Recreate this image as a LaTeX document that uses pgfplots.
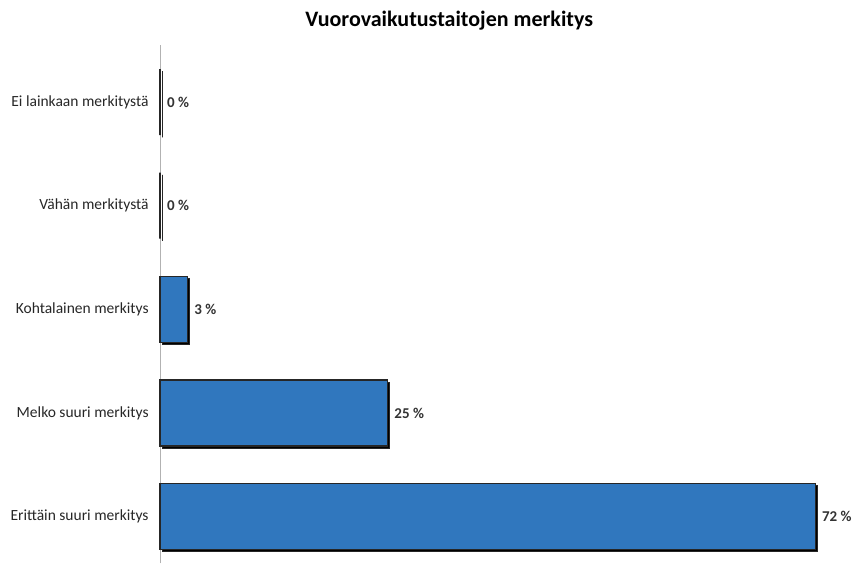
\documentclass[border=0pt]{standalone}
\usepackage{pgfplots}
\pgfplotsset{compat=1.18}
\usepackage{fontspec}
\setmainfont{Carlito}
\usetikzlibrary{shadows}
\definecolor{barblue}{RGB}{48,119,190}
\begin{document}
\begin{tikzpicture}
\begin{axis}[
  name=ax,
  scale only axis,
  width=682bp, height=518bp,
  xbar, bar width=66bp,
  xmin=0, xmax=75,
  ymin=-0.45, ymax=4.55,
  axis lines=left,
  x axis line style={draw=none},
  y axis line style={draw=black!30, line width=0.8pt, -},
  xtick=\empty,
  ytick={0,1,2,3,4},
  yticklabels={Erittäin suuri merkitys, Melko suuri merkitys, Kohtalainen merkitys, Vähän merkitystä, Ei lainkaan merkitystä},
  major tick length=0pt,
  /pgf/number format/assume math mode=true,
  yticklabel style={font=\fontsize{15.5bp}{18bp}\selectfont, text=black!85, xshift=-8bp},
  title={\fontsize{22bp}{25bp}\selectfont\bfseries Vuorovaikutustaitojen merkitys},
  title style={at={(0.5,1)}, anchor=south, xshift=-52bp, yshift=5bp},
  nodes near coords={\pgfmathprintnumber{\pgfplotspointmeta}~\%},
  nodes near coords style={font=\fontsize{15bp}{18bp}\selectfont\bfseries, text=black!80, anchor=west, xshift=3bp},
  clip=false,
]
\addplot[fill=barblue, draw=black!85, line width=1.2pt,
  drop shadow={shadow xshift=2.2bp, shadow yshift=-2.2bp, opacity=1, fill=black}]
  coordinates {(72,0) (25,1) (3,2) (0,3) (0,4)};
\end{axis}
\path[use as bounding box] ([xshift=-160bp,yshift=-1bp]ax.south west) rectangle ([xshift=12.5bp,yshift=45bp]ax.north east);
\end{tikzpicture}
\end{document}
